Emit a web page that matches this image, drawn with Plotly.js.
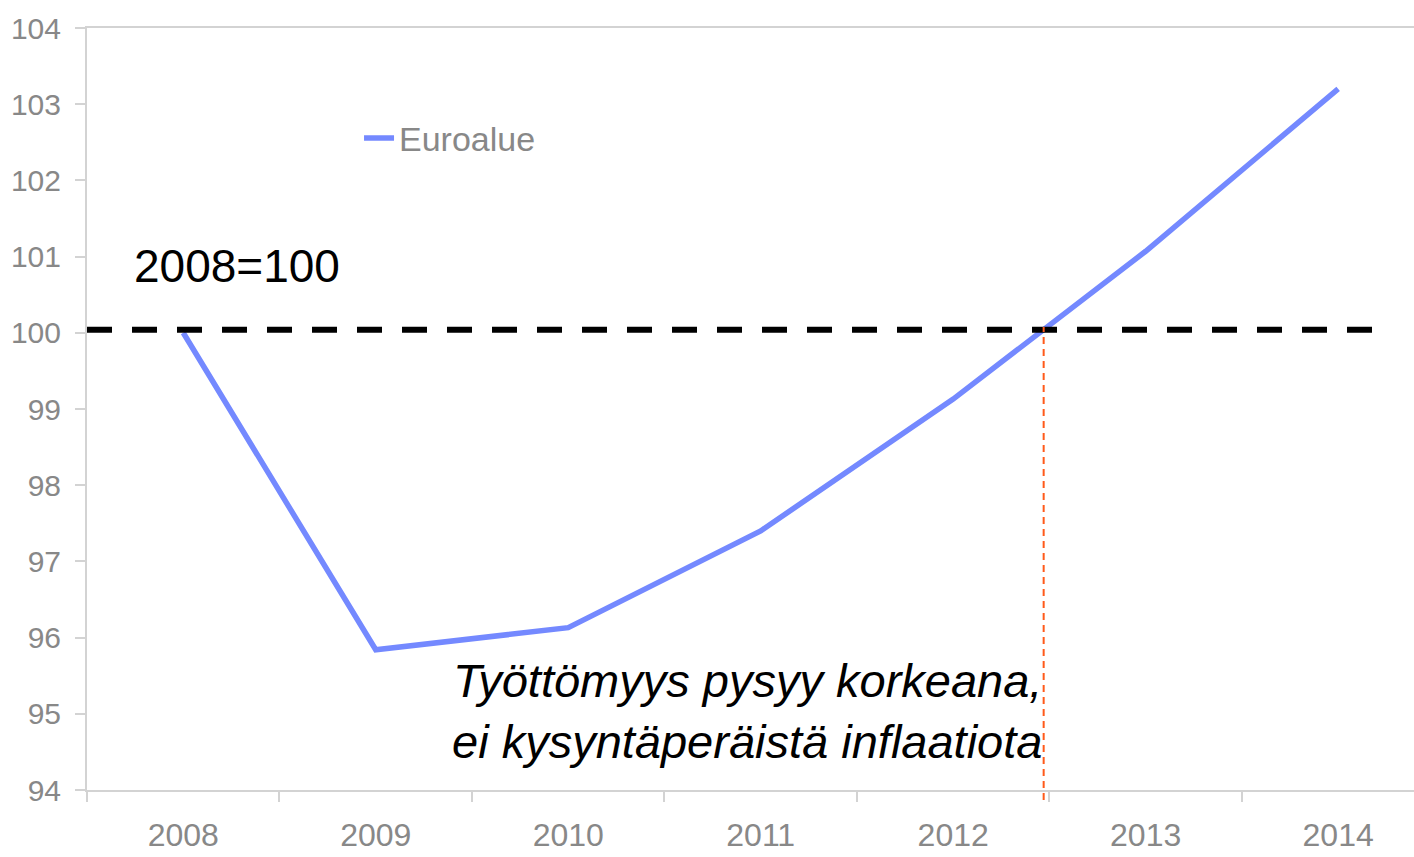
<!DOCTYPE html>
<html>
<head>
<meta charset="utf-8">
<script src="https://cdn.plot.ly/plotly-3.0.1.min.js"></script>
<style>
html, body { margin: 0; padding: 0; background: #ffffff; }
#chart { width: 1414px; height: 857px; }
</style>
</head>
<body>
<div id="chart"></div>
<script>
// Data
const years = ["2008", "2009", "2010", "2011", "2012", "2013", "2014"];
const euroalue = [100.0, 95.84, 96.13, 97.4, 99.13, 101.07, 103.2];
const seriesName = "Euroalue";
const baseLabel = "2008=100";
const noteLines = ["Työttömyys pysyy korkeana,", "ei kysyntäperäistä inflaatiota"];
const baseLevel = 100.04;
const crossIndex = 4.47;

const gray = "#888888";
const axisGray = "#d3d3d3";

const trace = {
  type: "scatter",
  mode: "lines",
  x: years,
  y: euroalue,
  name: seriesName,
  line: { color: "#7489ff", width: 5.5 },
  hoverinfo: "x+y"
};

const layout = {
  width: 1414,
  height: 857,
  margin: { l: 87, r: 0, t: 28, b: 67 },
  paper_bgcolor: "#ffffff",
  plot_bgcolor: "#ffffff",
  font: { family: "Liberation Sans, Arial, sans-serif", color: gray },
  showlegend: true,
  legend: {
    x: 0.205, y: 0.855, xanchor: "left", yanchor: "middle",
    bgcolor: "rgba(0,0,0,0)",
    font: { size: 34, color: gray, family: "Liberation Sans, Arial, sans-serif" }
  },
  xaxis: {
    type: "category",
    range: [-0.5, 6.394],
    showline: true, linecolor: axisGray, linewidth: 2, mirror: true,
    showgrid: false, zeroline: false,
    ticks: "outside", ticklen: 10, tickcolor: axisGray, tickwidth: 2,
    tickson: "boundaries",
    ticklabelstandoff: 16,
    tickfont: { size: 32, color: gray }
  },
  yaxis: {
    range: [94, 104],
    dtick: 1, tick0: 94,
    showline: true, linecolor: axisGray, linewidth: 2,
    showgrid: false, zeroline: false,
    ticks: "outside", ticklen: 10, tickcolor: axisGray, tickwidth: 2,
    ticklabelstandoff: 8,
    tickfont: { size: 30, color: gray }
  },
  shapes: [
    {
      type: "line", xref: "x", yref: "y",
      x0: -0.5, x1: 6.26, y0: baseLevel, y1: baseLevel,
      line: { color: "#000000", width: 6, dash: "25px,20px" },
      layer: "above"
    },
    {
      type: "line", xref: "x", yref: "paper",
      x0: crossIndex, x1: crossIndex, y0: -0.0131, y1: 0.6076,
      line: { color: "#ff5a1a", width: 2, dash: "7px,5px" },
      layer: "above"
    }
  ],
  annotations: [
    {
      text: baseLabel, xref: "x", yref: "y",
      x: -0.265, y: 100.88, xanchor: "left", yanchor: "middle",
      showarrow: false,
      font: { size: 46, color: "#000000", family: "Liberation Sans, Arial, sans-serif" }
    },
    {
      text: "<i>" + noteLines.join("<br>") + "</i>", xref: "x", yref: "y",
      x: crossIndex, y: 95.04, xanchor: "right", yanchor: "middle", align: "right",
      showarrow: false,
      font: { size: 47, color: "#000000", family: "Liberation Sans, Arial, sans-serif" }
    }
  ]
};

Plotly.newPlot("chart", [trace], layout, { displayModeBar: false, responsive: false });
</script>
</body>
</html>
